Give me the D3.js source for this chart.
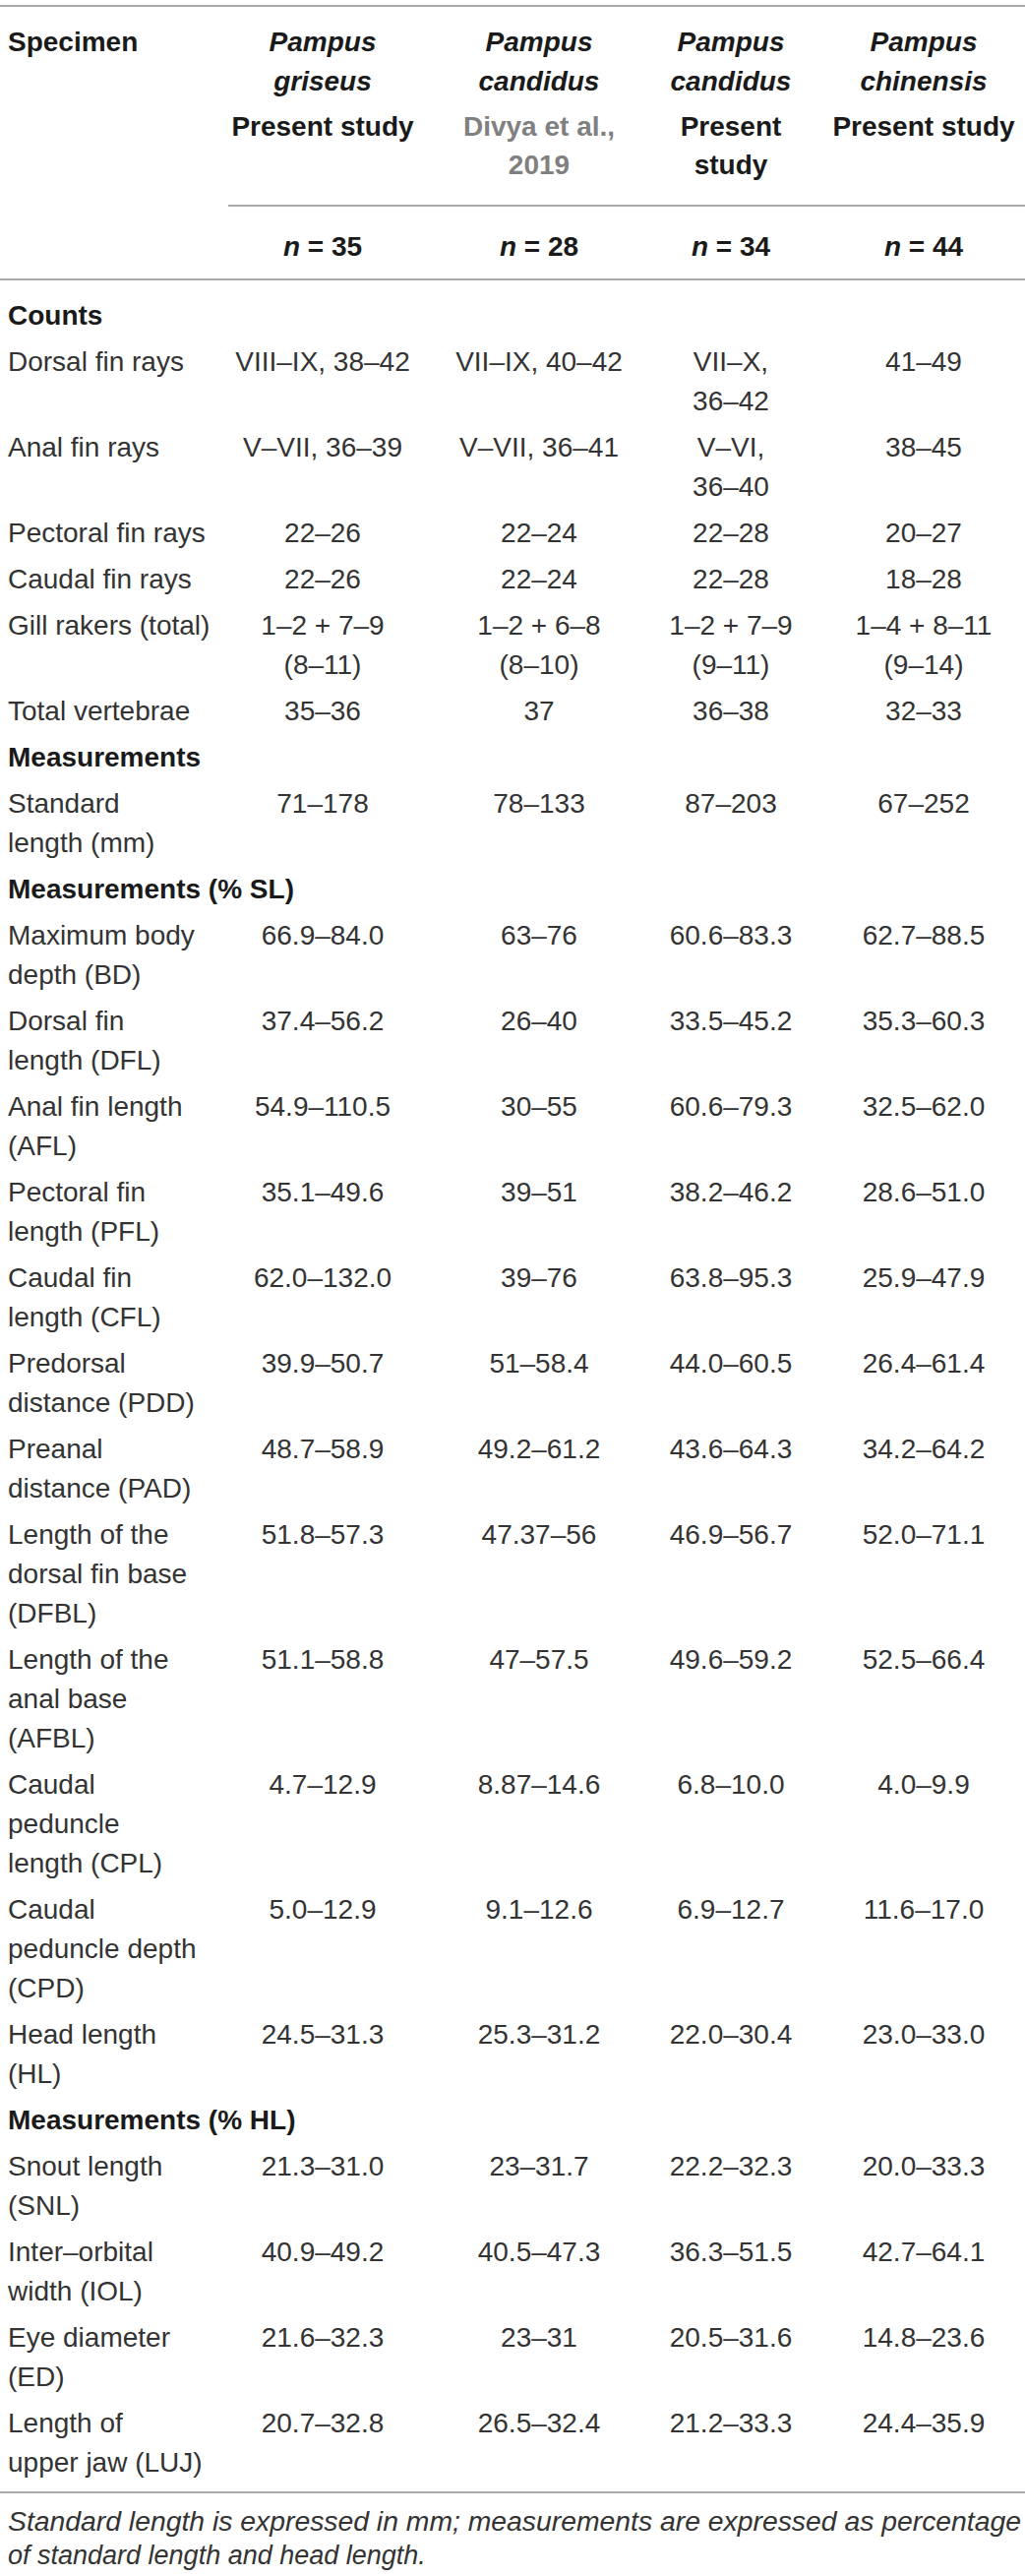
<!DOCTYPE html>
<html><head><meta charset="utf-8">
<script src="https://cdn.jsdelivr.net/npm/d3@7"></script>
<style>
body{margin:0;background:#fff}
svg{display:block}
text{font-family:"Liberation Sans",Arial,Helvetica,sans-serif}
</style>
</head><body><svg id="c"></svg>
<script>
// ---------- data ----------
const speciesGenus   = ["Pampus","Pampus","Pampus","Pampus"];
const speciesEpithet = ["griseus","candidus","candidus","chinensis"];
const sources        = ["Present study","Divya et al.,|2019","Present|study","Present study"];
const sourceIsCitation = [false,true,false,false];
const sampleSizes    = [35,28,34,44];

const rowLabels = [
  "Counts","Dorsal fin rays","Anal fin rays","Pectoral fin rays","Caudal fin rays",
  "Gill rakers (total)","Total vertebrae","Measurements","Standard|length (mm)",
  "Measurements (% SL)","Maximum body|depth (BD)","Dorsal fin|length (DFL)",
  "Anal fin length|(AFL)","Pectoral fin|length (PFL)","Caudal fin|length (CFL)",
  "Predorsal|distance (PDD)","Preanal|distance (PAD)","Length of the|dorsal fin base|(DFBL)",
  "Length of the|anal base|(AFBL)","Caudal|peduncle|length (CPL)","Caudal|peduncle depth|(CPD)",
  "Head length|(HL)","Measurements (% HL)","Snout length|(SNL)","Inter–orbital|width (IOL)",
  "Eye diameter|(ED)","Length of|upper jaw (LUJ)"
];
const sectionRows = [0,7,9,22];

const griseusPresent = [null,"VIII–IX, 38–42","V–VII, 36–39","22–26","22–26","1–2 + 7–9|(8–11)","35–36",
  null,"71–178",null,"66.9–84.0","37.4–56.2","54.9–110.5","35.1–49.6","62.0–132.0","39.9–50.7",
  "48.7–58.9","51.8–57.3","51.1–58.8","4.7–12.9","5.0–12.9","24.5–31.3",null,"21.3–31.0",
  "40.9–49.2","21.6–32.3","20.7–32.8"];
const candidusDivya = [null,"VII–IX, 40–42","V–VII, 36–41","22–24","22–24","1–2 + 6–8|(8–10)","37",
  null,"78–133",null,"63–76","26–40","30–55","39–51","39–76","51–58.4","49.2–61.2","47.37–56",
  "47–57.5","8.87–14.6","9.1–12.6","25.3–31.2",null,"23–31.7","40.5–47.3","23–31","26.5–32.4"];
const candidusPresent = [null,"VII–X,|36–42","V–VI,|36–40","22–28","22–28","1–2 + 7–9|(9–11)","36–38",
  null,"87–203",null,"60.6–83.3","33.5–45.2","60.6–79.3","38.2–46.2","63.8–95.3","44.0–60.5",
  "43.6–64.3","46.9–56.7","49.6–59.2","6.8–10.0","6.9–12.7","22.0–30.4",null,"22.2–32.3",
  "36.3–51.5","20.5–31.6","21.2–33.3"];
const chinensisPresent = [null,"41–49","38–45","20–27","18–28","1–4 + 8–11|(9–14)","32–33",
  null,"67–252",null,"62.7–88.5","35.3–60.3","32.5–62.0","28.6–51.0","25.9–47.9","26.4–61.4",
  "34.2–64.2","52.0–71.1","52.5–66.4","4.0–9.9","11.6–17.0","23.0–33.0",null,"20.0–33.3",
  "42.7–64.1","14.8–23.6","24.4–35.9"];
const footnote = ["Standard length is expressed in mm; measurements are expressed as percentage",
                  "of standard length and head length."];

// ---------- layout ----------
const W = 1042, H = 2618;
const FS = 28, LINE = 40, PAD = 7;
const columns = [griseusPresent, candidusDivya, candidusPresent, chinensisPresent];
const colX = d3.scaleOrdinal().domain(d3.range(4)).range([328, 548, 743, 939]);
const labelX = 8;

const svg = d3.select("#c").attr("width", W).attr("height", H);
const split = s => s == null ? [] : s.split("|");

// rule lines
const rule = (x1, x2, y) => svg.append("line").attr("x1", x1).attr("x2", x2).attr("y1", y).attr("y2", y)
  .attr("stroke", "#8c8c8c").attr("stroke-width", 1.6);
rule(0, W, 6);
rule(232, W, 209);
rule(0, W, 284);
rule(0, W, 2533);

const base = 10; // center -> baseline offset

// header
svg.append("text").attr("x", labelX).attr("y", 42 + base).attr("font-size", FS)
  .attr("font-weight", "bold").attr("fill", "#1a1a1a").text("Specimen");

const hdr = svg.append("g");
d3.range(4).forEach(i => {
  const x = colX(i);
  [speciesGenus[i], speciesEpithet[i]].forEach((t, k) => {
    hdr.append("text").attr("x", x).attr("y", 42 + k * 40 + base).attr("text-anchor", "middle")
      .attr("font-size", FS).attr("font-weight", "bold").attr("font-style", "italic")
      .attr("fill", "#1a1a1a").text(t);
  });
  split(sources[i]).forEach((t, k) => {
    hdr.append("text").attr("x", x).attr("y", 128 + k * 39 + base).attr("text-anchor", "middle")
      .attr("font-size", FS).attr("font-weight", "bold")
      .attr("fill", sourceIsCitation[i] ? "#808080" : "#1a1a1a").text(t);
  });
  const n = hdr.append("text").attr("x", x).attr("y", 250 + base).attr("text-anchor", "middle")
    .attr("font-size", FS).attr("font-weight", "bold").attr("fill", "#1a1a1a");
  n.append("tspan").attr("font-style", "italic").text("n");
  n.append("tspan").text(" = " + sampleSizes[i]);
});

// body rows
let y = 320;
const rows = rowLabels.map((lab, r) => {
  const lines = Math.max(split(lab).length, ...columns.map(c => split(c[r]).length));
  const row = { r, y, lines };
  y += lines * LINE + PAD;
  return row;
});

const body = svg.append("g");
rows.forEach(row => {
  const isSection = sectionRows.includes(row.r);
  split(rowLabels[row.r]).forEach((t, k) => {
    body.append("text").attr("x", labelX).attr("y", row.y + k * LINE + base)
      .attr("font-size", FS).attr("font-weight", isSection ? "bold" : "normal")
      .attr("fill", isSection ? "#1a1a1a" : "#333").text(t);
  });
  columns.forEach((col, i) => {
    split(col[row.r]).forEach((t, k) => {
      body.append("text").attr("x", colX(i)).attr("y", row.y + k * LINE + base)
        .attr("text-anchor", "middle").attr("font-size", FS).attr("fill", "#333").text(t);
    });
  });
});

// footnote
footnote.forEach((t, k) => {
  const ft = svg.append("text").attr("x", labelX).attr("y", 2563 + k * 34 + 9).attr("font-size", 27)
    .attr("font-style", "italic").attr("fill", "#333").text(t);
  if (k === 0) ft.attr("textLength", 1030).attr("lengthAdjust", "spacingAndGlyphs");
});
</script>
</body></html>
